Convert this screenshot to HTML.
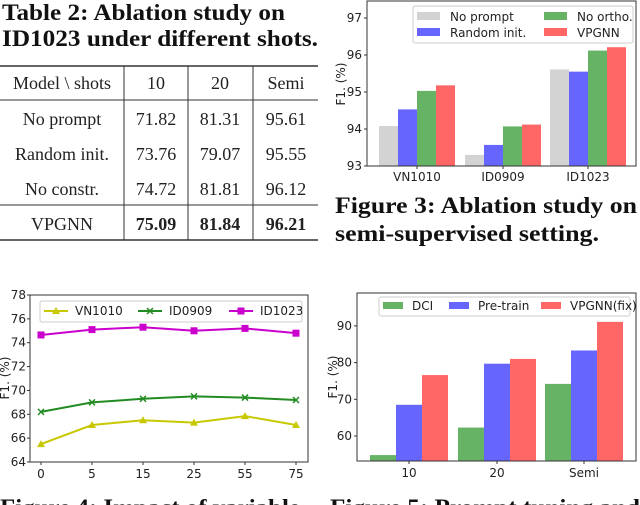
<!DOCTYPE html>
<html><head><meta charset="utf-8"><style>
body{margin:0;width:640px;height:505px;overflow:hidden;background:#fff;font-family:"Liberation Serif",serif;}
svg{position:absolute;left:0;top:0}
.t{font-family:"DejaVu Sans","Liberation Sans",sans-serif;font-size:12px;fill:#222}
.cap{font-family:"Liberation Serif",serif;font-weight:bold;font-size:23px;fill:#111}
.tb{font-family:"Liberation Serif",serif;font-size:18px;fill:#222}
</style></head><body>
<svg id="s" width="640" height="505">
<g>
<text class="cap" x="2" y="20" textLength="283" lengthAdjust="spacingAndGlyphs">Table 2: Ablation study on</text>
<text class="cap" x="2" y="46" textLength="316" lengthAdjust="spacingAndGlyphs">ID1023 under different shots.</text>
<line x1="0" y1="66" x2="318" y2="66" stroke="#333" stroke-width="1.5"/>
<line x1="0" y1="100" x2="318" y2="100" stroke="#333" stroke-width="1"/>
<line x1="0" y1="205" x2="318" y2="205" stroke="#333" stroke-width="1"/>
<line x1="0" y1="240" x2="318" y2="240" stroke="#333" stroke-width="1.5"/>
<line x1="124" y1="66" x2="124" y2="240" stroke="#333"/>
<line x1="188" y1="66" x2="188" y2="240" stroke="#333"/>
<line x1="253" y1="66" x2="253" y2="240" stroke="#333"/>
</g>
<g id="tbl"></g>
<g id="f3"></g>
<text class="cap" x="335" y="213" textLength="302" lengthAdjust="spacingAndGlyphs">Figure 3: Ablation study on</text>
<text class="cap" x="335" y="241" textLength="264" lengthAdjust="spacingAndGlyphs">semi-supervised setting.</text>
<g id="f4"></g>
<g id="f5"></g>
<text class="cap" x="0" y="515" textLength="300" lengthAdjust="spacingAndGlyphs">Figure 4: Impact of variable</text>
<text class="cap" x="330" y="515" textLength="310" lengthAdjust="spacingAndGlyphs">Figure 5: Prompt tuning and</text>
</svg>
<script>
// Table data
const tblHeader=["Model \\ shots","10","20","Semi"];
const tblRows=[["No prompt","71.82","81.31","95.61"],["Random init.","73.76","79.07","95.55"],["No constr.","74.72","81.81","96.12"],["VPGNN","75.09","81.84","96.21"]];
// Figure 3 data
const f3Cats=["VN1010","ID0909","ID1023"];
const f3Series=["No prompt","Random init.","No ortho.","VPGNN"];
const f3NoPrompt=[94.08,93.30,95.61];
const f3Random=[94.53,93.57,95.55];
const f3NoOrtho=[95.03,94.07,96.12];
const f3VPGNN=[95.18,94.12,96.21];
const f3Ticks=[93,94,95,96,97];
// Figure 4 data
const f4Cats=["0","5","15","25","55","75"];
const f4VN1010=[65.5,67.1,67.5,67.3,67.85,67.1];
const f4ID0909=[68.2,69.0,69.3,69.5,69.4,69.2];
const f4ID1023=[74.65,75.1,75.3,75.0,75.2,74.8];
const f4Ticks=[64,66,68,70,72,74,76,78];
// Figure 5 data
const f5Cats=["10","20","Semi"];
const f5DCI=[54.8,62.3,74.2];
const f5Pre=[68.5,79.7,83.3];
const f5VP=[76.6,81.0,91.1];
const f5Ticks=[60,70,80,90];

const NS="http://www.w3.org/2000/svg";
function mk(p,tag,at,txt){const e=document.createElementNS(NS,tag);for(const k in at)e.setAttribute(k,at[k]);if(txt!==undefined)e.textContent=txt;p.appendChild(e);return e;}

// table
const tg=document.getElementById('tbl');
const colX=[62,156,220,286];
tblHeader.forEach((h,i)=>{const e=mk(tg,'text',{class:'tb',x:colX[i],y:89,'text-anchor':'middle'},h);

});
const rowY=[125,160,195,230];
tblRows.forEach((r,ri)=>r.forEach((c,ci)=>{const e=mk(tg,'text',{class:'tb',x:colX[ci],y:rowY[ri],'text-anchor':'middle','font-weight':(ri==3&&ci>0)?'bold':'normal'},c);

}));

// Figure 3
(function(){
const g=document.getElementById('f3');
const L=367,R=636,T=1,B=166;
const y=v=>B-(v-93)*37;
const cx=[417,503,588],bw=19;
const cols=["#d3d3d3","#6666ff","#66b366","#ff6666"];
const data=[f3NoPrompt,f3Random,f3NoOrtho,f3VPGNN];
data.forEach((ser,si)=>ser.forEach((v,ci)=>{const x=cx[ci]-2*bw+si*bw;
const r=mk(g,'rect',{x:x,y:y(v),width:bw,height:B-y(v),fill:cols[si]});

}));
mk(g,'rect',{x:L,y:T,width:R-L,height:B-T,fill:'none',stroke:'#333','stroke-width':1});
f3Ticks.forEach(t=>{mk(g,'line',{x1:L-3,x2:L,y1:y(t),y2:y(t),stroke:'#333'});
const e=mk(g,'text',{class:'t',x:L-5,y:y(t)+4,'text-anchor':'end'},t);

});
f3Cats.forEach((c,i)=>{mk(g,'line',{x1:cx[i],x2:cx[i],y1:B,y2:B+3,stroke:'#333'});
const e=mk(g,'text',{class:'t',x:cx[i],y:B+15,'text-anchor':'middle'},c);

});
const yl=mk(g,'text',{class:'t',x:0,y:0,transform:'translate(345,84) rotate(-90)','text-anchor':'middle'},'F1. (%)');


const lg=mk(g,'rect',{x:413,y:6,width:220,height:37,fill:'#fff',stroke:'#ccc',rx:2});


const lp=[[417,12],[417,28],[544,12],[544,28]];
[0,1,2,3].forEach(i=>{mk(g,'rect',{x:lp[i][0],y:lp[i][1],width:23,height:8,fill:cols[i]});
const e=mk(g,'text',{class:'t',x:lp[i][0]+33,y:lp[i][1]+9},f3Series[i]);

});
})();

// Figure 4
(function(){
const g=document.getElementById('f4');
const L=30,R=308,T=295,B=462;
const y=v=>B-(v-64)*(B-T)/14;
const x=i=>41+i*51;
mk(g,'rect',{x:L,y:T,width:R-L,height:B-T,fill:'none',stroke:'#333'});
f4Ticks.forEach(t=>{mk(g,'line',{x1:L-3,x2:L,y1:y(t),y2:y(t),stroke:'#333'});
const e=mk(g,'text',{class:'t',x:L-4,y:y(t)+4,'text-anchor':'end'},t);

});
f4Cats.forEach((c,i)=>{mk(g,'line',{x1:x(i),x2:x(i),y1:B,y2:B+3,stroke:'#333'});
const e=mk(g,'text',{class:'t',x:x(i),y:B+16,'text-anchor':'middle'},c);

});
const yl=mk(g,'text',{class:'t',x:0,y:0,transform:'translate(9,378) rotate(-90)','text-anchor':'middle'},'F1. (%)');


const series=[[f4VN1010,'#c8c800','tri','VN1010'],[f4ID0909,'#228b22','x','ID0909'],[f4ID1023,'#cc00cc','sq','ID1023']];
function marker(m,px,py,col){
if(m=='tri')mk(g,'path',{d:`M${px} ${py-4}L${px+4} ${py+3}L${px-4} ${py+3}Z`,fill:col});
else if(m=='x')mk(g,'path',{d:`M${px-3} ${py-3}L${px+3} ${py+3}M${px+3} ${py-3}L${px-3} ${py+3}`,stroke:col,'stroke-width':1.5});
else mk(g,'rect',{x:px-3.5,y:py-3.5,width:7,height:7,fill:col});}
series.forEach(([d,col,m,name])=>{
const p=mk(g,'polyline',{points:d.map((v,i)=>x(i)+','+y(v)).join(' '),fill:'none',stroke:col,'stroke-width':2});


d.forEach((v,i)=>marker(m,x(i),y(v),col));});
const lg=mk(g,'rect',{x:40,y:301,width:262,height:21,fill:'#fff',stroke:'#ccc',rx:2});


const lx=[44,138,229];
series.forEach(([d,col,m,name],i)=>{mk(g,'line',{x1:lx[i],x2:lx[i]+24,y1:311,y2:311,stroke:col,'stroke-width':2});marker(m,lx[i]+12,311,col);
const e=mk(g,'text',{class:'t',x:lx[i]+31,y:315},name);

});
})();

// Figure 5
(function(){
const g=document.getElementById('f5');
const L=357,R=636,T=293,B=461;
const y=v=>436-(v-60)*3.67;
const cx=[409,497,584],bw=26;
const cols=["#66b366","#6666ff","#ff6666"];
const data=[f5DCI,f5Pre,f5VP];
data.forEach((ser,si)=>ser.forEach((v,ci)=>{const bx=cx[ci]-1.5*bw+si*bw;
const r=mk(g,'rect',{x:bx,y:y(v),width:bw,height:B-y(v),fill:cols[si]});

}));
mk(g,'rect',{x:L,y:T,width:R-L,height:B-T,fill:'none',stroke:'#333'});
f5Ticks.forEach(t=>{mk(g,'line',{x1:L-3,x2:L,y1:y(t),y2:y(t),stroke:'#333'});
const e=mk(g,'text',{class:'t',x:L-5,y:y(t)+4,'text-anchor':'end'},t);

});
f5Cats.forEach((c,i)=>{mk(g,'line',{x1:cx[i],x2:cx[i],y1:B,y2:B+3,stroke:'#333'});
const e=mk(g,'text',{class:'t',x:cx[i],y:B+16,'text-anchor':'middle'},c);

});
const yl=mk(g,'text',{class:'t',x:0,y:0,transform:'translate(337,377) rotate(-90)','text-anchor':'middle'},'F1. (%)');


const lg=mk(g,'rect',{x:379,y:297,width:251,height:19,fill:'#fff',stroke:'#ccc',rx:2});


const names=["DCI","Pre-train","VPGNN(fix)"],lx=[383,449,541];
names.forEach((n,i)=>{mk(g,'rect',{x:lx[i],y:302,width:20,height:7,fill:cols[i]});
const e=mk(g,'text',{class:'t',x:lx[i]+29,y:310,'font-size':'10'},n);

});
})();
</script>
</body></html>
